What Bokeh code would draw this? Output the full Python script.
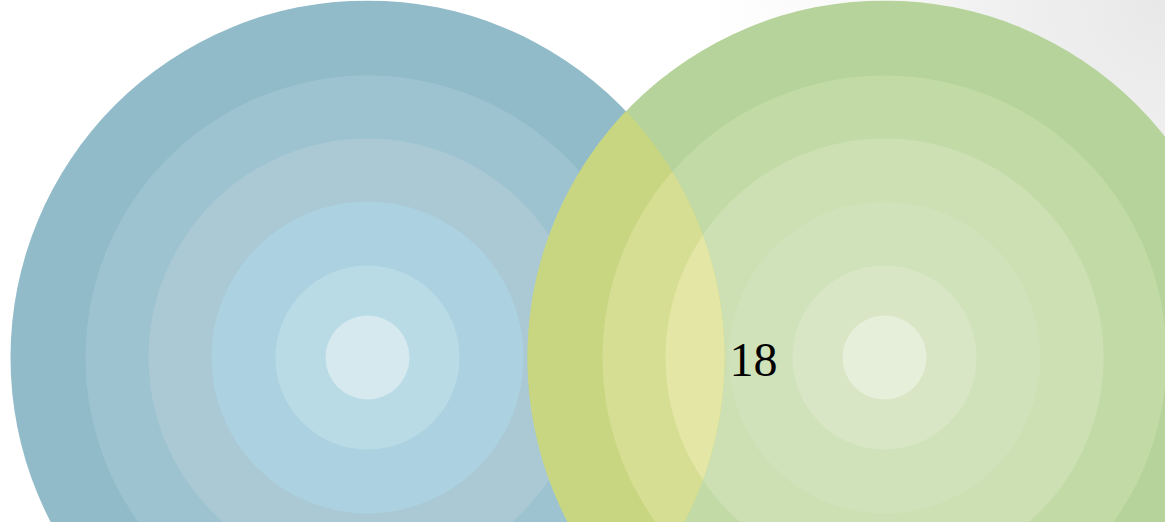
import numpy as np
from bokeh.plotting import figure
from bokeh.models import Range1d
from bokeh.core.properties import value
from bokeh.embed import file_html
from bokeh.resources import INLINE

# ---- data ----
set_names = ["A", "B"]
intersection_value = 18
intersection_label = ["18"]

# ring colours, outer -> inner
blue_colors = ["#91bbc9", "#9dc3d1", "#aac9d4", "#acd2e1", "#b9dbe6", "#d6e9ef"]
green_colors = ["#b5d39a", "#c2dba6", "#cce0b3", "#cfe2b9", "#d8e6c6", "#e6efda"]
lens_colors = ["#c9d681", "#d6de93", "#e3e6a4"]

# ---- layout (pixel-like data units, y grows downward) ----
W, H = 1165, 522
R = 357
ring_radii = [357, 282, 219, 156, 92, 42]
centers = {"A": (367, 357), "B": (884, 357)}

p = figure(width=W, height=H, output_backend="svg", toolbar_location=None,
           x_range=Range1d(0, W), y_range=Range1d(H, 0), min_border=0)
p.axis.visible = False
p.grid.visible = False
p.outline_line_color = None
p.background_fill_alpha = 0
p.border_fill_alpha = 0
p.styles = {"background": "radial-gradient(circle at 100% 0%, #e8e8e8 0%, #f1f1f1 14%, #fafafa 26%, #ffffff 36%)"}

ax, ay = centers[set_names[0]]
bx, by = centers[set_names[1]]

# blue circle rings
p.circle(x=[ax] * len(ring_radii), y=[ay] * len(ring_radii), radius=ring_radii,
         fill_color=blue_colors, line_color=None)
# green circle rings
p.circle(x=[bx] * len(ring_radii), y=[by] * len(ring_radii), radius=ring_radii,
         fill_color=green_colors, line_color=None)


def lens(c1, r1, c2, r2, n=120):
    d = c2[0] - c1[0]
    a = (d * d - r2 * r2 + r1 * r1) / (2 * d)
    h = np.sqrt(max(r1 * r1 - a * a, 0))
    t1 = np.arctan2(h, a)
    t2 = np.arctan2(h, d - a)
    th1 = np.linspace(-t1, t1, n)
    xs1 = c1[0] + r1 * np.cos(th1)
    ys1 = c1[1] + r1 * np.sin(th1)
    th2 = np.linspace(np.pi - t2, np.pi + t2, n)
    xs2 = c2[0] + r2 * np.cos(th2)
    ys2 = c2[1] + r2 * np.sin(th2)
    return list(np.concatenate([xs1, xs2])), list(np.concatenate([ys1, ys2]))


lx, ly = [], []
for r in ring_radii[:len(lens_colors)]:
    xs, ys = lens((ax, ay), R, (bx, by), r)
    lx.append(xs)
    ly.append(ys)
p.patches(xs=lx, ys=ly, fill_color=lens_colors, line_color=None)

p.text(x=[753], y=[359], text=intersection_label, text_font=value("Liberation Serif"),
       text_font_size="48px", text_color="#000000", text_align="center",
       text_baseline="middle")

open("out.html", "w").write(file_html(p, INLINE))
